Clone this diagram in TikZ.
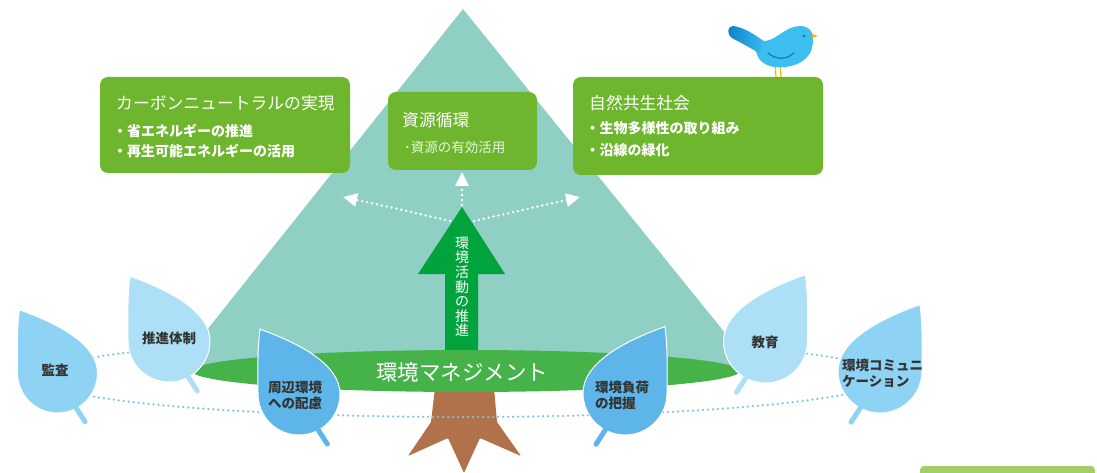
\documentclass[tikz,border=0pt]{standalone}
\usepackage{fontspec}
\setmainfont{Noto Sans CJK JP}
\usetikzlibrary{arrows.meta,shapes.geometric}

\definecolor{mountain}{HTML}{8FCFC4}
\definecolor{groundgreen}{HTML}{45B24A}
\definecolor{arrowgreen}{HTML}{00A33C}
\definecolor{boxgreen}{HTML}{6DB62E}
\definecolor{trunkbrown}{HTML}{B1714A}
\definecolor{leaflight}{HTML}{ADDFF6}
\definecolor{leafmid}{HTML}{8ED3F4}
\definecolor{leafdark}{HTML}{5EB5E9}
\definecolor{dotblue}{HTML}{7EC3EC}
\definecolor{labelgray}{HTML}{333333}
\definecolor{birdblue}{HTML}{3CBEEE}
\definecolor{birddark}{HTML}{0E7FC6}
\definecolor{beakyellow}{HTML}{F5B800}
\definecolor{footgreen}{HTML}{A0CF67}

\tikzset{
  % drop-shaped leaf, unit radius, tip to the upper left
  leaf/.pic={
    \path[fill=., draw=white, line width=1pt]
      (-0.95,-1.58) .. controls (-1.02,-1.1) and (-1.0,-0.55) .. (-1,0)
      .. controls (-1,0.552) and (-0.552,1) .. (0,1)
      .. controls (0.552,1) and (1,0.552) .. (1,0)
      .. controls (1,-0.68) and (0.12,-1.2) .. cycle;
    \draw[line width=5pt, line cap=round] (0.42,0.8) -- (0.69,1.22);
  },
  greenbox/.style={fill=boxgreen, rounded corners=8pt, inner sep=0pt},
  boxtitle/.style={anchor=west, inner sep=0pt, text=white, font=\fontsize{16.8}{19}\selectfont},
  boxitem/.style={anchor=west, inner sep=0pt, text=white, font=\bfseries\fontsize{14}{16}\selectfont},
  leaflabel/.style={inner sep=0pt, text=labelgray, align=left, font=\bfseries\fontsize{13.5}{16}\selectfont},
  wdot/.style={white, line width=2.7pt, dash pattern=on 0pt off 5pt, line cap=round,
    -{Triangle[length=14pt,width=13pt,fill=white]}},
  bluedot/.style={dotblue, line width=2.5pt, dash pattern=on 0pt off 5pt, line cap=round},
}

\begin{document}
\begin{tikzpicture}[x=1pt,y=-1pt]
\useasboundingbox (0,0) rectangle (1097,473);
\clip (0,0) rectangle (1097,473);

% tree trunk with roots
\fill[trunkbrown, rounded corners=1pt] (435,388) -- (431,422) -- (408,456) -- (448,438)
  -- (464,473) -- (480,438) -- (521,456) -- (497,422) -- (494,388) -- cycle;

% dotted ring linking the leaves
\draw[bluedot] (463,377) ellipse [x radius=424, y radius=40];

% mountain
\fill[mountain] (463,9) -- (175,370) -- (755,370) -- cycle;

% upward arrow
\fill[arrowgreen] (445,352) -- (445,274) -- (418,274) -- (462,207) -- (505,274)
  -- (478,274) -- (478,352) -- cycle;
\coordinate (atip) at (462,205);
\coordinate (aleft) at (450,221);
\coordinate (aright) at (474,221);
\node[inner sep=0pt, text=white, align=center, font=\fontsize{14}{14.6}\selectfont] (act) at (462,287)
  {環\\境\\活\\動\\の\\推\\進};

% ground ellipse
\node[fill=groundgreen, ellipse, minimum width=548pt, minimum height=42pt, inner sep=0pt] (ground) at (466,371) {};
\node[inner sep=0pt, text=white, font=\fontsize{21.5}{24}\selectfont] (ems) at (462,372) {環境マネジメント};

% goals
\coordinate (gtop) at (462,172);
\coordinate (gleft) at (343,197);
\coordinate (gright) at (580,197);
\draw[wdot] (atip) -- (gtop);
\draw[wdot] (aleft) .. controls (420,214) and (385,206) .. (gleft);
\draw[wdot] (aright) .. controls (505,214) and (540,206) .. (gright);

\node[greenbox, minimum width=250pt, minimum height=96pt] (box1) at (225,125) {};
\node[boxtitle] (t1) at (116,103) {カーボンニュートラルの実現};
\node[boxitem] (i1a) at (113,131) {・省エネルギーの推進};
\node[boxitem] (i1b) at (113,151) {・再生可能エネルギーの活用};

\node[greenbox, minimum width=149pt, minimum height=78pt] (box2) at (462.5,131) {};
\node[boxtitle] (t2) at (402,120) {資源循環};
\node[anchor=west, inner sep=0pt, text=white!85!boxgreen, font=\fontsize{13.5}{16}\selectfont] (i2) at (404,147) {･資源の有効活用};

\node[greenbox, minimum width=250pt, minimum height=98pt] (box3) at (698,126) {};
\node[boxtitle] (t3) at (589,103) {自然共生社会};
\node[boxitem] (i3a) at (585.5,128) {・生物多様性の取り組み};
\node[boxitem] (i3b) at (585.5,150) {・沿線の緑化};

% leaves
\pic[color=leafmid, scale=40] at (57.5,373) {leaf};
\node[leaflabel] (l1) at (55,370) {監査};
\pic[color=leaflight, scale=41] at (169,341) {leaf};
\node[leaflabel] (l2) at (169,338) {推進体制};
\pic[color=leafdark, scale=41] at (299,394) {leaf};
\node[leaflabel] (l3) at (295,395) {周辺環境\\への配慮};
\pic[color=leafdark, xscale=-42, yscale=42] at (625,393) {leaf};
\node[leaflabel, anchor=west] (l4) at (595,395) {環境負荷\\の把握};
\pic[color=leaflight, xscale=-42, yscale=42] at (765.5,341) {leaf};
\node[leaflabel] (l5) at (765,342) {教育};
\pic[color=leafmid, xscale=-42, yscale=42] at (880,371) {leaf};
\node[leaflabel, anchor=west] (l6) at (842,373) {環境コミュニ\\ケーション};

% bird on the box
\draw[beakyellow, line width=1.2pt] (775,64) -- (776,77) (780,64) -- (781,77);
\fill[birdblue] (733,26) .. controls (745,28) and (755,35) .. (763,41)
  .. controls (775,42) and (785,26) .. (800,26)
  .. controls (808,26) and (813,31) .. (813,37)
  .. controls (813,46) and (812,53) .. (805,59)
  .. controls (797,66) and (786,68) .. (775,67)
  .. controls (763,66) and (757,58) .. (756,51)
  .. controls (749,47) and (740,42) .. (732,38)
  .. controls (727,35) and (727,26) .. (733,26) -- cycle;
\shade[left color=birddark, right color=birdblue]
  (733,26) .. controls (745,28) and (755,35) .. (765,42) -- (759,53)
  .. controls (749,47) and (740,42) .. (732,38)
  .. controls (727,35) and (727,26) .. (733,26) -- cycle;
\draw[birddark, line width=1.3pt, line cap=round] (768,53) .. controls (776,60) and (786,60) .. (794,53);
\fill[birddark] (804,36) circle (1.6);
\fill[beakyellow] (812,34) -- (818,36) -- (812,38) -- cycle;

% footer tab
\fill[footgreen, rounded corners=4pt] (920,466) rectangle (1095,490);
\end{tikzpicture}
\end{document}
